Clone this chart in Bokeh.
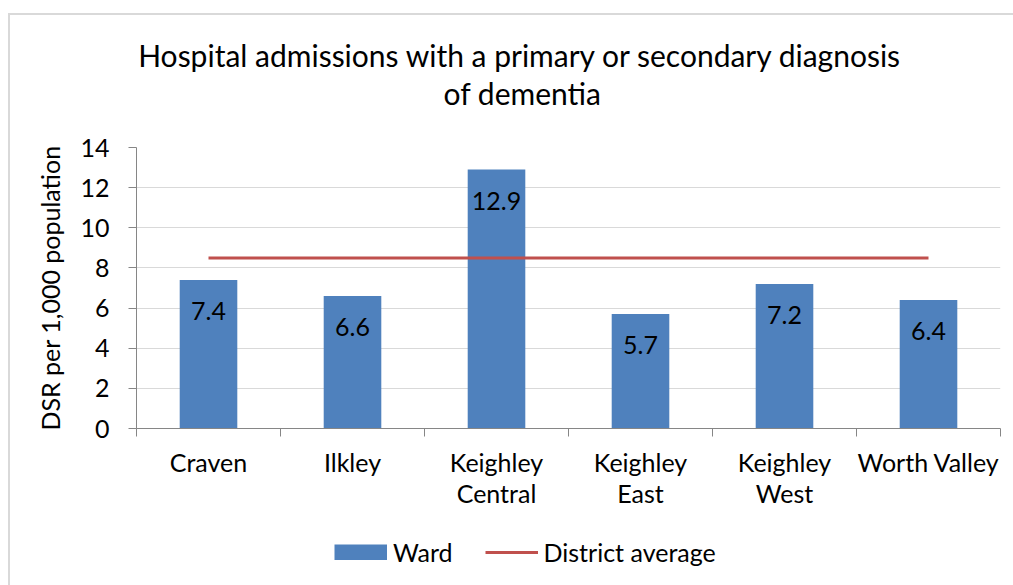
from bokeh.plotting import figure
from bokeh.layouts import column
from bokeh.models import (ColumnDataSource, FixedTicker, LinearAxis, LabelSet, Grid, Label,
                          Legend, LegendItem, Range1d)
from bokeh.core.properties import value
from bokeh.embed import file_html
from bokeh.resources import INLINE

# ---- data ----
wards = ["Craven", "Ilkley", "Keighley Central", "Keighley East", "Keighley West", "Worth Valley"]
ward_tick_labels = ["Craven", "Ilkley", "Keighley\nCentral", "Keighley\nEast", "Keighley\nWest", "Worth Valley"]
ward_values = [7.4, 6.6, 12.9, 5.7, 7.2, 6.4]
district_average = 8.5
y_ticks = [0, 2, 4, 6, 8, 10, 12, 14]
title_lines = ["Hospital admissions with a primary or secondary diagnosis", "of dementia"]
y_label = "DSR per 1,000 population"
series_names = ["Ward", "District average"]

FONT = "Lato"
FS = "25px"
BLUE = "#4F81BD"
RED = "#C0504D"
AXIS = "#868686"
GRID = "#D9D9D9"
W = 1013
H_TITLE, H_MAIN, H_LEG = 120, 410, 55
FRAME_LEFT = 136  # frames of the stacked figures are aligned by the column layout


def bare(fig):
    fig.outline_line_color = None
    fig.background_fill_color = None
    fig.border_fill_color = None
    fig.xgrid.grid_line_color = None
    fig.ygrid.grid_line_color = None
    return fig


# ---------- title strip ----------
pt = bare(figure(width=W, height=H_TITLE, output_backend="svg", toolbar_location=None,
                 x_range=Range1d(0, 1), y_range=Range1d(0, 1), title=None,
                 min_border=0, x_axis_type=None, y_axis_type=None))
pt.add_layout(Label(x=520 - FRAME_LEFT, y=66, x_units="screen", y_units="screen",
                    text=title_lines[0], text_align="center", text_baseline="alphabetic",
                    text_font=FONT, text_font_size="30px", text_color="#000000"))
pt.add_layout(Label(x=522 - FRAME_LEFT, y=28, x_units="screen", y_units="screen",
                    text=title_lines[1], text_align="center", text_baseline="alphabetic",
                    text_font=FONT, text_font_size="30px", text_color="#000000"))

# ---------- main chart ----------
n = len(wards)
xs = [i + 0.5 for i in range(n)]
src = ColumnDataSource(dict(x=xs, top=ward_values,
                            label=["%.1f" % v for v in ward_values]))
avg_src = ColumnDataSource(dict(x=xs, y=[district_average] * n))

p = figure(width=W, height=H_MAIN, output_backend="svg", toolbar_location=None,
           x_range=Range1d(0, n), y_range=Range1d(0, 14), title=None,
           min_border_left=FRAME_LEFT, min_border_right=13, min_border_top=27,
           min_border_bottom=102, x_axis_type=None, y_axis_type=None)
bare(p)
p.background_fill_color = "white"

yax = LinearAxis(ticker=FixedTicker(ticks=y_ticks))
yax.axis_line_color = AXIS
yax.major_tick_line_color = AXIS
yax.major_tick_out = 8
yax.major_tick_in = 0
yax.minor_tick_line_color = None
yax.major_label_standoff = 19
yax.major_label_text_font = FONT
yax.major_label_text_font_size = FS
yax.major_label_text_color = "#000000"
yax.axis_label = y_label
yax.axis_label_text_font = FONT
yax.axis_label_text_font_size = FS
yax.axis_label_text_font_style = "normal"
yax.axis_label_text_color = "#000000"
yax.axis_label_standoff = 12
p.add_layout(yax, "left")

# category-boundary ticks (no labels)
boundaries = list(range(n + 1))
xax1 = LinearAxis(ticker=FixedTicker(ticks=boundaries))
xax1.axis_line_color = AXIS
xax1.major_tick_line_color = AXIS
xax1.major_tick_out = 8
xax1.major_tick_in = 0
xax1.minor_tick_line_color = None
xax1.major_label_overrides = {b: "" for b in boundaries}
xax1.major_label_text_font_size = "0px"
xax1.major_label_standoff = 0
p.add_layout(xax1, "below")

xax2 = LinearAxis(ticker=FixedTicker(ticks=xs))
xax2.axis_line_color = None
xax2.major_tick_line_color = None
xax2.minor_tick_line_color = None
xax2.major_tick_out = 0
xax2.major_label_standoff = 10
xax2.major_label_text_font = FONT
xax2.major_label_text_font_size = FS
xax2.major_label_text_color = "#000000"
xax2.major_label_text_line_height = 1.05
xax2.major_label_overrides = {x: t for x, t in zip(xs, ward_tick_labels)}
p.add_layout(xax2, "below")

p.add_layout(Grid(dimension=1, ticker=FixedTicker(ticks=y_ticks[1:]),
                  grid_line_color=GRID, grid_line_width=1))

bars = p.vbar(x="x", top="top", width=0.4, bottom=0, source=src,
              fill_color=BLUE, line_color=None)
line = p.line(x="x", y="y", source=avg_src, line_color=RED, line_width=3)

p.add_layout(LabelSet(x="x", y="top", text="label", source=src, y_offset=-31,
                      text_align="center", text_baseline="middle",
                      text_font=value(FONT), text_font_size=value(FS),
                      text_color="#000000"))

# ---------- legend strip ----------
pl = bare(figure(width=W, height=H_LEG, output_backend="svg", toolbar_location=None,
                 x_range=Range1d(0, 1), y_range=Range1d(0, 1), title=None,
                 min_border=0, x_axis_type=None, y_axis_type=None))
# single-point stand-ins (draw nothing in the strip) so the legend can draw its swatches
swatch = ColumnDataSource(dict(x=[0.5], y=[0.5]))
leg_bar = pl.line(x="x", y="y", source=swatch, line_color=BLUE, line_width=16,
                  line_cap="butt")
leg_line = pl.line(x="x", y="y", source=swatch, line_color=RED, line_width=3)
legend = Legend(items=[LegendItem(label=series_names[0], renderers=[leg_bar]),
                       LegendItem(label=series_names[1], renderers=[leg_line])],
                location=(334 - FRAME_LEFT, 18), orientation="horizontal",
                glyph_width=53, glyph_height=16, label_standoff=6, spacing=32,
                padding=0, margin=0, border_line_color=None, background_fill_alpha=0,
                label_text_font=FONT, label_text_font_size=FS,
                label_text_color="#000000")
pl.add_layout(legend)

layout = column(pt, p, pl, spacing=0)
layout.styles = {
    "background-color": "white",
    "background-image": "linear-gradient(#D9D9D9, #D9D9D9), linear-gradient(#D9D9D9, #D9D9D9)",
    "background-size": "2px 100%, 100% 2px",
    "background-position": "8px 13px, 8px 13px",
    "background-repeat": "no-repeat",
}

open("out.html", "w").write(file_html(layout, INLINE))
